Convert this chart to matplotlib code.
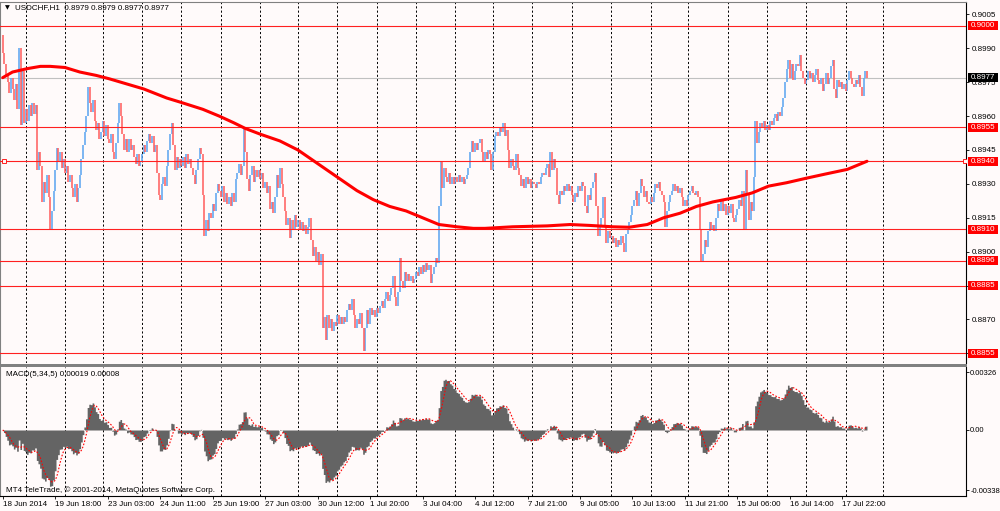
import numpy as np
import pandas as pd
import matplotlib
matplotlib.use("Agg")
import matplotlib.pyplot as plt
import matplotlib.transforms as mtransforms
from matplotlib.patches import Rectangle

plt.rcParams['font.family'] = ['Liberation Sans', 'DejaVu Sans']

# USDCHF H1 (MT4), 18 Jun - 18 Jul 2014
symbol = "USDCHF,H1"
last_bar = "0.8979 0.8979 0.8977 0.8977"
macd_caption = "MACD(5,34,5) 0.00019 0.00008"
copyright_note = "MT4 TeleTrade, \u00a9 2001-2014, MetaQuotes Software Corp."

first_open = 0.8996
closes = [
    0.8988, 0.8983, 0.8978, 0.8975, 0.8970, 0.8977, 0.8972, 0.8967, 0.8974, 0.8963, 0.8990, 0.8956, 0.8980,
    0.8957, 0.8963, 0.8958, 0.8965, 0.8960, 0.8966, 0.8961, 0.8965, 0.8936, 0.8944, 0.8938,
    0.8922, 0.8931, 0.8926, 0.8934, 0.8924, 0.8910, 0.8918, 0.8927, 0.8936, 0.8946, 0.8940,
    0.8944, 0.8937, 0.8941, 0.8935, 0.8938, 0.8931, 0.8934, 0.8928, 0.8924, 0.8930, 0.8922, 0.8928,
    0.8934, 0.8941, 0.8947, 0.8953, 0.8960, 0.8973, 0.8966, 0.8962, 0.8967, 0.8958, 0.8954, 0.8957, 0.8950,
    0.8953, 0.8958, 0.8951, 0.8956, 0.8950, 0.8948, 0.8952, 0.8944, 0.8941, 0.8948, 0.8957, 0.8966, 0.8960,
    0.8952, 0.8945, 0.8950, 0.8944, 0.8950, 0.8945, 0.8947, 0.8942, 0.8939, 0.8943, 0.8938, 0.8940, 0.8943, 0.8947, 0.8944,
    0.8949, 0.8952, 0.8948, 0.8951, 0.8944, 0.8947, 0.8935, 0.8925, 0.8923, 0.8930, 0.8933, 0.8929,
    0.8938, 0.8945, 0.8952, 0.8957, 0.8947, 0.8936, 0.8942, 0.8937, 0.8941, 0.8938, 0.8942, 0.8937, 0.8943, 0.8939, 0.8941, 0.8937,
    0.8934, 0.8930, 0.8936, 0.8941, 0.8946, 0.8943, 0.8925, 0.8907, 0.8914, 0.8909, 0.8917, 0.8915, 0.8921, 0.8918,
    0.8926, 0.8930, 0.8927, 0.8924, 0.8929, 0.8922, 0.8926, 0.8921, 0.8924, 0.8920, 0.8926, 0.8922, 0.8932, 0.8935, 0.8939, 0.8934, 0.8938, 0.8955,
    0.8944, 0.8932, 0.8927, 0.8934, 0.8938, 0.8931, 0.8936, 0.8933, 0.8936, 0.8932, 0.8935, 0.8928, 0.8931,
    0.8926, 0.8929, 0.8919, 0.8922, 0.8917, 0.8924, 0.8934, 0.8928, 0.8937, 0.8930, 0.8924, 0.8918, 0.8912, 0.8915, 0.8906, 0.8914,
    0.8910, 0.8916, 0.8911, 0.8914, 0.8910, 0.8913, 0.8909, 0.8912, 0.8908, 0.8911, 0.8915, 0.8905, 0.8898, 0.8902, 0.8896, 0.8900, 0.8894, 0.8899,
    0.8866, 0.8871, 0.8861, 0.8872, 0.8866, 0.8870, 0.8865, 0.8869, 0.8867, 0.8872, 0.8868, 0.8871, 0.8868, 0.8871, 0.8869, 0.8874,
    0.8877, 0.8874, 0.8879, 0.8872, 0.8866, 0.8870, 0.8868, 0.8873, 0.8866, 0.8856, 0.8866, 0.8874, 0.8868, 0.8875, 0.8872, 0.8874, 0.8871,
    0.8875, 0.8873, 0.8876, 0.8878, 0.8875, 0.8879, 0.8882, 0.8878, 0.8881, 0.8884, 0.8889, 0.8880, 0.8876, 0.8882,
    0.8897, 0.8887, 0.8884, 0.8891, 0.8887, 0.8890, 0.8887, 0.8889, 0.8886, 0.8888, 0.8891, 0.8889, 0.8893,
    0.8890, 0.8894, 0.8891, 0.8895, 0.8892, 0.8894, 0.8886, 0.8890, 0.8893, 0.8897, 0.8895, 0.8920, 0.8940,
    0.8928, 0.8937, 0.8933, 0.8931, 0.8935, 0.8930, 0.8933, 0.8930, 0.8933, 0.8931, 0.8934, 0.8931, 0.8933, 0.8930, 0.8932,
    0.8934, 0.8937, 0.8944, 0.8949, 0.8944, 0.8948, 0.8945, 0.8948, 0.8950, 0.8944, 0.8940, 0.8944, 0.8941, 0.8945, 0.8943, 0.8936,
    0.8944, 0.8951, 0.8953, 0.8951, 0.8955, 0.8953, 0.8957, 0.8951, 0.8954, 0.8945, 0.8937, 0.8941, 0.8938,
    0.8936, 0.8943, 0.8937, 0.8934, 0.8929, 0.8932, 0.8928, 0.8933, 0.8930, 0.8932, 0.8928, 0.8931, 0.8930, 0.8928, 0.8931,
    0.8930, 0.8933, 0.8935, 0.8934, 0.8937, 0.8939, 0.8933, 0.8944, 0.8936, 0.8941, 0.8937, 0.8925, 0.8921, 0.8927,
    0.8925, 0.8929, 0.8927, 0.8930, 0.8927, 0.8929, 0.8925, 0.8922, 0.8926, 0.8924, 0.8929, 0.8927, 0.8931, 0.8929, 0.8920, 0.8917,
    0.8925, 0.8923, 0.8928, 0.8931, 0.8935, 0.8920, 0.8907, 0.8912, 0.8915, 0.8924, 0.8911, 0.8904, 0.8909, 0.8906,
    0.8907, 0.8904, 0.8906, 0.8902, 0.8905, 0.8903, 0.8907, 0.8904, 0.8900, 0.8908, 0.8910, 0.8913, 0.8916, 0.8920, 0.8923,
    0.8927, 0.8920, 0.8926, 0.8932, 0.8929, 0.8924, 0.8927, 0.8922, 0.8921, 0.8924, 0.8922, 0.8926, 0.8930, 0.8928, 0.8931, 0.8927,
    0.8925, 0.8922, 0.8911, 0.8918, 0.8922, 0.8925, 0.8927, 0.8930, 0.8927, 0.8929, 0.8926, 0.8928, 0.8924, 0.8920, 0.8923,
    0.8920, 0.8925, 0.8927, 0.8929, 0.8926, 0.8925, 0.8927, 0.8924, 0.8910, 0.8896, 0.8899, 0.8905, 0.8902, 0.8909, 0.8913, 0.8910,
    0.8912, 0.8909, 0.8915, 0.8921, 0.8918, 0.8923, 0.8918, 0.8921, 0.8916, 0.8920, 0.8917, 0.8921, 0.8915, 0.8913, 0.8916,
    0.8919, 0.8923, 0.8920, 0.8927, 0.8910, 0.8936, 0.8926, 0.8914, 0.8922, 0.8918, 0.8933, 0.8958, 0.8948,
    0.8953, 0.8957, 0.8955, 0.8958, 0.8954, 0.8956, 0.8954, 0.8958, 0.8956, 0.8959, 0.8961, 0.8958, 0.8962, 0.8960, 0.8964, 0.8968,
    0.8975, 0.8981, 0.8985, 0.8977, 0.8983, 0.8976, 0.8980, 0.8983, 0.8982, 0.8987, 0.8980, 0.8977, 0.8974, 0.8976, 0.8980,
    0.8977, 0.8979, 0.8975, 0.8978, 0.8981, 0.8976, 0.8974, 0.8977, 0.8971, 0.8974, 0.8979, 0.8974, 0.8977, 0.8982,
    0.8985, 0.8972, 0.8968, 0.8976, 0.8973, 0.8975, 0.8972, 0.8974, 0.8971, 0.8976, 0.8980, 0.8977, 0.8974,
    0.8973, 0.8976, 0.8974, 0.8978, 0.8973, 0.8969, 0.8977, 0.8980, 0.8977,
]

# moving average (thick red line), read at these bars
ma_bars = [0, 6, 15, 23, 29, 38, 47, 57, 65, 86,
           100, 109, 122, 132, 141, 148, 157, 169, 180, 192,
           204, 216, 226, 236, 246, 256, 266, 277, 287, 294,
           311, 332, 346, 358, 372, 382, 393, 403, 413, 423,
           433, 440, 447, 457, 467, 478, 490, 502, 515, 527]
ma_values = [0.89770, 0.89795, 0.89810, 0.89820, 0.89820, 0.89815, 0.89795, 0.89780, 0.89765, 0.89720,
             0.89680, 0.89660, 0.89630, 0.89600, 0.89570, 0.89545, 0.89520, 0.89490, 0.89450, 0.89390,
             0.89330, 0.89270, 0.89230, 0.89200, 0.89180, 0.89150, 0.89120, 0.89110, 0.89103, 0.89103,
             0.89110, 0.89114, 0.89120, 0.89116, 0.89110, 0.89108, 0.89120, 0.89150, 0.89170, 0.89200,
             0.89220, 0.89230, 0.89240, 0.89260, 0.89290, 0.89305, 0.89325, 0.89344, 0.89364, 0.89400]

levels = [0.9000, 0.8955, 0.8940, 0.8910, 0.8896, 0.8885, 0.8855]
last_price = 0.8977
price_ticks = [0.9005, 0.8990, 0.8975, 0.8960, 0.8945, 0.8930, 0.8915, 0.8900, 0.8885, 0.8870, 0.8855]
macd_ticks = [0.00326, 0.0, -0.00338]
macd_tick_labels = ["0.00326", "0.00", "-0.00338"]

bg = '#FFFAFA'
blue = '#5FA6F0'
red = '#FF6262'

n = len(closes)
idx = np.arange(n)
c = np.array(closes)
o = np.r_[first_open, c[:-1]]
up = c >= o
lo = np.minimum(o, c)
hi = np.maximum(np.maximum(o, c), lo + 0.00004)

# H1 bars, Friday closes after 22:00
hours = pd.date_range("2014-06-18 10:00", periods=900, freq="h")
keep = (hours.weekday < 5) & ~((hours.weekday == 4) & (hours.hour == 23))
times = hours[keep][: n + 12]
label_pos = list(range(0, n, 32))
labels = []
for i in label_pos:
    t = times[i]
    if i == 0:
        labels.append(f"{t.day} {t:%b %Y}")
    else:
        labels.append(f"{t.day} {t:%b %H:%M}")
grid_pos = [i for i, t in enumerate(times) if t.hour == 0]

# MACD(5,34,5)
s = pd.Series(c)
macd = s.ewm(span=5, adjust=False).mean() - s.ewm(span=34, adjust=False).mean()
signal = macd.rolling(5, min_periods=1).mean()

W, H = 1000, 511
def fx(px):
    return px / W
def fy(py):
    return 1 - py / H

fig = plt.figure(figsize=(10, 5.11), dpi=100, facecolor=bg)
ax = fig.add_axes([0, fy(363), fx(966), fy(2) - fy(363)], facecolor=bg)
axm = fig.add_axes([0, fy(496), fx(966), fy(367) - fy(496)], facecolor=bg)

xlim = (-2.7 / 1.64, (966 - 2.7) / 1.64)
for a in (ax, axm):
    a.set_xlim(*xlim)
    for g in grid_pos:
        a.axvline(g, color='black', lw=0.7, ls=(0, (2.2, 2.2)), zorder=0.5)
    a.spines['left'].set_color('#808080')
    a.spines['top'].set_color('#808080')
    a.spines['right'].set_color('black')
    a.spines['bottom'].set_color('black')
    a.yaxis.tick_right()
    a.tick_params(axis='y', direction='out', length=2.2, width=0.6, pad=1.6,
                  labelsize=5.8, colors='black')

# price panel
ax.set_ylim(0.885071, 0.901049)
ax.set_xticks([])
ax.set_yticks(price_ticks)
ax.set_yticklabels([f"{p:.4f}" for p in price_ticks])
ax.spines['bottom'].set_visible(False)

ax.vlines(idx[up], lo[up], hi[up], color=blue, lw=1.15, zorder=2)
ax.vlines(idx[~up], lo[~up], hi[~up], color=red, lw=1.15, zorder=2)
ax.axhline(last_price, color='#C0C0C0', lw=0.8, zorder=1.5)
for lv in levels:
    ax.axhline(lv, color='#FF2020', lw=0.8, zorder=3)
ax.plot([0.004, 0.9985], [0.8940, 0.8940], ls='none', marker='s', ms=2.4,
        mfc=bg, mec='red', mew=0.6, transform=mtransforms.blended_transform_factory(ax.transAxes, ax.transData),
        zorder=4)
ax.plot(ma_bars, ma_values, color='#FF0000', lw=2.2, zorder=4, solid_capstyle='round')

tr = mtransforms.blended_transform_factory(ax.transAxes, ax.transData)
box_h = 9 * (0.901049 - 0.885071) / 361
for lv, col in [(v, '#FF0000') for v in levels] + [(last_price, 'black')]:
    ax.add_patch(Rectangle((968 / 966, lv - box_h / 2), 30 / 966, box_h, transform=tr,
                           facecolor=col, edgecolor='none', clip_on=False, zorder=10))
    ax.text(970.5 / 966, lv, f"{lv:.4f}", transform=tr, color='white', fontsize=5.8,
            va='center', ha='left', clip_on=False, zorder=11)

# MACD panel
axm.set_ylim(-0.003714, 0.003545)
axm.fill_between(idx, 0, macd, step='mid', color='#646464', lw=0, zorder=2)
axm.plot(idx, signal, color='#FF0000', lw=0.8, ls=(0, (1.5, 1.5)), zorder=3)
axm.set_yticks(macd_ticks)
axm.set_yticklabels(macd_tick_labels)
axm.tick_params(axis='y', pad=0.8, labelsize=5.5)
axm.spines['top'].set_visible(False)
axm.set_xticks(label_pos)
axm.set_xticklabels(labels)
axm.tick_params(axis='x', direction='out', length=2.2, width=0.6, pad=1.2,
                labelsize=5.8, colors='black')
for lab in axm.get_xticklabels():
    lab.set_horizontalalignment('left')

# panel separator
fig.add_artist(Rectangle((0, fy(367)), fx(967), fy(364) - fy(367), transform=fig.transFigure,
                         facecolor='#808080', edgecolor='none'))

fig.text(fx(5), fy(8), "\u25bc", family='DejaVu Sans', fontsize=4.5, va='center', ha='left')
fig.text(fx(15), fy(8), f"{symbol}  {last_bar}", fontsize=5.8, va='center', ha='left')
fig.text(fx(6), fy(374.5), macd_caption, fontsize=5.8, va='center', ha='left')
fig.text(fx(6), fy(490), copyright_note, fontsize=5.8, va='center', ha='left')

fig.savefig("out.png", dpi=100, facecolor=bg)
